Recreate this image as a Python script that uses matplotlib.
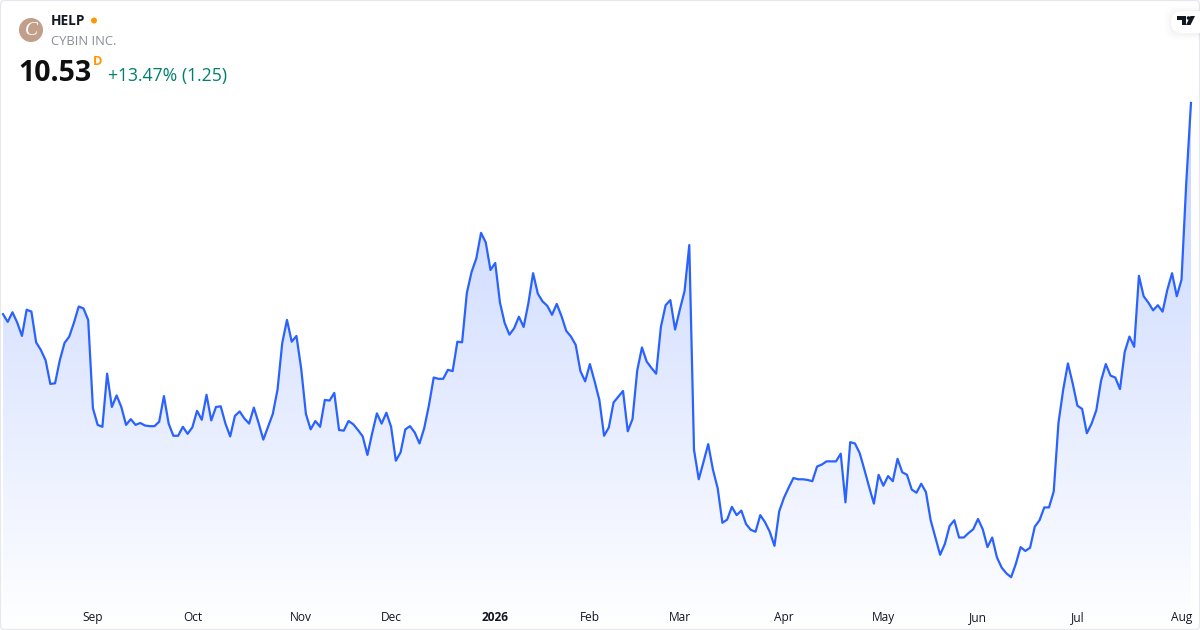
import numpy as np
import matplotlib.pyplot as plt
from matplotlib.colors import LinearSegmentedColormap
from matplotlib.patches import Circle, FancyBboxPatch, Polygon

plt.rcParams['font.family'] = ['Open Sans', 'DejaVu Sans']

# Daily closes
close = [
    7.23, 7.11, 7.26, 7.10, 6.89, 7.30, 7.27, 6.79, 6.67, 6.51, 6.14, 6.15,
    6.51, 6.78, 6.88, 7.10, 7.35, 7.32, 7.14, 5.76, 5.50, 5.47, 6.30, 5.78,
    5.96, 5.78, 5.50, 5.59, 5.50, 5.53, 5.49, 5.48, 5.48, 5.55, 5.95, 5.52,
    5.33, 5.33, 5.47, 5.36, 5.46, 5.72, 5.58, 5.97, 5.57, 5.78, 5.79, 5.52,
    5.32, 5.64, 5.71, 5.60, 5.52, 5.77, 5.53, 5.27, 5.47, 5.67, 6.05, 6.78,
    7.14, 6.80, 6.89, 6.38, 5.67, 5.43, 5.56, 5.47, 5.89, 5.88, 6.00, 5.42,
    5.41, 5.56, 5.51, 5.42, 5.32, 5.03, 5.37, 5.68, 5.52, 5.69, 5.47, 4.94,
    5.07, 5.43, 5.48, 5.38, 5.21, 5.45, 5.81, 6.24, 6.22, 6.22, 6.36, 6.34,
    6.80, 6.79, 7.56, 7.89, 8.10, 8.50, 8.35, 7.92, 8.03, 7.41, 7.09, 6.91,
    7.01, 7.19, 7.03, 7.40, 7.87, 7.55, 7.43, 7.36, 7.22, 7.39, 7.20, 6.97,
    6.88, 6.75, 6.34, 6.18, 6.45, 6.18, 5.89, 5.33, 5.46, 5.85, 5.94, 6.03,
    5.40, 5.59, 6.35, 6.71, 6.49, 6.39, 6.30, 7.03, 7.37, 7.45, 6.99, 7.30,
    7.59, 8.31, 5.11, 4.65, 4.92, 5.20, 4.80, 4.51, 3.97, 4.02, 4.22, 4.09,
    4.16, 3.95, 3.86, 3.83, 4.09, 3.98, 3.83, 3.61, 4.15, 4.36, 4.52, 4.67,
    4.65, 4.65, 4.64, 4.62, 4.85, 4.88, 4.93, 4.93, 4.93, 5.05, 4.29, 5.23,
    5.21, 5.06, 4.80, 4.53, 4.27, 4.72, 4.55, 4.70, 4.62, 4.97, 4.76, 4.72,
    4.49, 4.44, 4.58, 4.45, 4.01, 3.74, 3.47, 3.64, 3.92, 4.01, 3.74, 3.74,
    3.81, 3.87, 4.03, 3.87, 3.59, 3.74, 3.43, 3.27, 3.18, 3.12, 3.33, 3.59,
    3.53, 3.58, 3.91, 4.01, 4.21, 4.21, 4.46, 5.53, 6.05, 6.46, 6.15, 5.80,
    5.75, 5.37, 5.52, 5.73, 6.19, 6.45, 6.27, 6.24, 6.06, 6.64, 6.88, 6.72,
    7.83, 7.51, 7.41, 7.29, 7.37, 7.27, 7.61, 7.87, 7.51, 7.77, 9.28, 10.53,
]
# First trading day of each month, as an index into close
month_idx = [19, 40, 63, 82, 104, 124, 143, 165, 186, 206, 227, 249]
month_labels = ['Sep', 'Oct', 'Nov', 'Dec', '2026', 'Feb', 'Mar', 'Apr', 'May', 'Jun', 'Jul', 'Aug']

symbol = 'HELP'
company = 'CYBIN INC.'
last_price = '10.53'
change_text = '+13.47% (1.25)'

x = np.arange(len(close))
step = 4.733   # pixels per bar
y_top = 12.139
y_bottom = 2.295

fig = plt.figure(figsize=(12, 6.3), dpi=100, facecolor='white')
ax = fig.add_axes([0, 0, 1, 1])
for s in ax.spines.values():
    s.set_visible(False)
ax.set_yticks([])

# Gradient under the line, clipped to the area below it
grad = LinearSegmentedColormap.from_list('area', ['#ffffff', '#c4d3ff'])
img = ax.imshow(np.linspace(1, 0, 256).reshape(-1, 1), cmap=grad, aspect='auto',
                extent=[x[0], x[-1], y_bottom, max(close)], zorder=1)
area = ax.fill_between(x, close, y_bottom, color='none')
img.set_clip_path(area.get_paths()[0], transform=ax.transData)
ax.set_xlim(-3 / step, (1200 - 3) / step)
ax.set_ylim(y_bottom, y_top)
ax.plot(x, close, color='#2962ff', lw=1.6, zorder=2, solid_joinstyle='round')

ax.set_xticks(month_idx)
ax.set_xticklabels(month_labels, fontsize=8.6, color='#131722')
ax.tick_params(axis='x', length=0, pad=-13.4)
ax.get_xticklabels()[4].set_fontweight('bold')

# Overlay in pixel coordinates for the header and frame
ov = fig.add_axes([0, 0, 1, 1], facecolor='none')
ov.axis('off')

ov.add_patch(FancyBboxPatch((0.5, 0.5), 1199, 629, boxstyle='round,pad=0,rounding_size=4',
                            fc='none', ec='#e6e8ee', lw=0.9))

ov.add_patch(Circle((31, 30), 12, fc='#c19f8a', ec='none'))
ov.text(31, 30.5, 'C', color='white', fontsize=14, style='italic', family='Liberation Serif',
        ha='center', va='center')
ov.text(51, 21.3, symbol, fontsize=9.8, fontweight='bold', color='#131722', va='center')
ov.add_patch(Circle((94, 20.5), 3, fc='#ff9800', ec='none'))
ov.text(51, 41.2, company, fontsize=9.4, color='#8a8d96', va='center')
ov.text(18, 73.5, last_price, fontsize=20.5, fontweight='bold', color='#0f0f0f', va='center')
ov.text(93, 61.5, 'D', fontsize=9.4, fontweight='bold', color='#ff9800', va='center')
ov.text(108, 76, change_text, fontsize=12.7, color='#00806a', va='center')

# TradingView badge
for r, a in [(6, 0.008), (4, 0.012), (2, 0.018)]:
    ov.add_patch(FancyBboxPatch((1171 - r, 11 - r + 1), 40 + r, 22 + 2 * r,
                                boxstyle='round,pad=0,rounding_size=11', fc='black', ec='none', alpha=a))
ov.add_patch(FancyBboxPatch((1171, 11), 40, 22, boxstyle='round,pad=0,rounding_size=11',
                            fc='white', ec='none'))
ov.add_patch(Polygon([(1177, 16), (1186, 16), (1186, 25), (1181.5, 25), (1181.5, 20), (1177, 20)], fc='#131722', ec='none'))
ov.add_patch(Circle((1188.5, 18), 1.8, fc='#131722', ec='none'))
ov.add_patch(Polygon([(1190.5, 16), (1195, 16), (1190.5, 25), (1186, 25)], fc='#131722', ec='none'))
ov.set_xlim(0, 1200)
ov.set_ylim(630, 0)

plt.savefig('out.png', dpi=100)
